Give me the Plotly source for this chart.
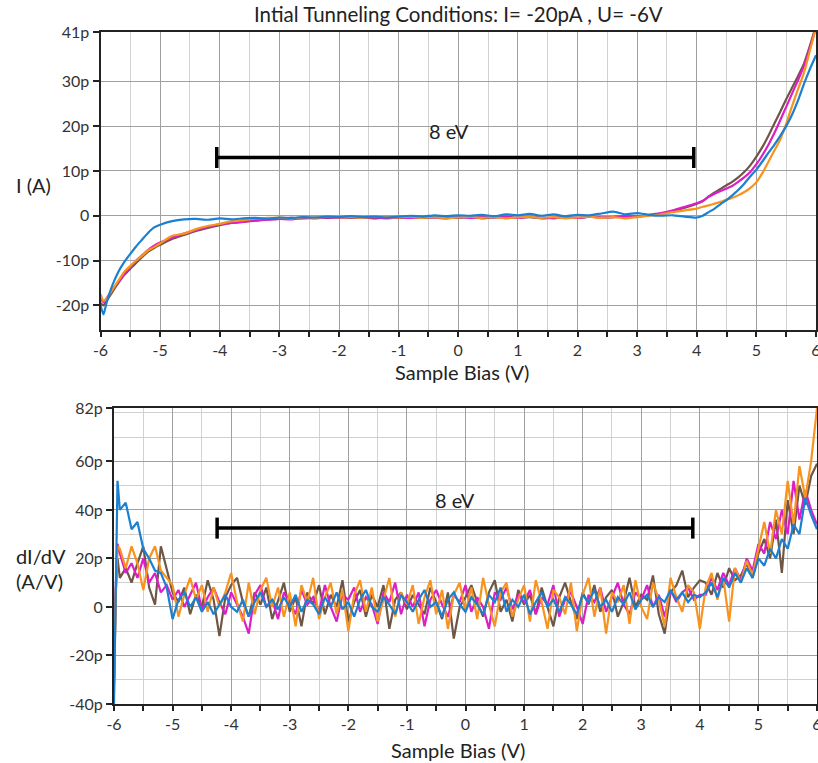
import plotly.graph_objects as go

# ---------------- data ----------------
bias_top = [-6.0, -5.95, -5.9, -5.8, -5.7, -5.6, -5.5, -5.4, -5.3, -5.2, -5.1, -5.0,
            -4.8, -4.6, -4.4, -4.2, -4.0, -3.8, -3.6, -3.4, -3.2, -3.0, -2.8, -2.6, -2.4, -2.2, -2.0, -1.8, -1.6, -1.4, -1.2, -1.0,
            -0.8, -0.6, -0.4, -0.2, 0.0, 0.2, 0.4, 0.6, 0.8, 1.0, 1.2, 1.4, 1.6, 1.8, 2.0, 2.2, 2.4, 2.6, 2.8, 3.0, 3.2, 3.4, 3.6, 3.8,
            4.0, 4.1, 4.2, 4.3, 4.4, 4.5, 4.6, 4.7, 4.8, 4.9, 5.0, 5.1, 5.2, 5.3, 5.4, 5.5, 5.6, 5.7, 5.8, 5.9, 6.0]

I_brown = [-19.5, -20.0, -19.0, -17.0, -15.0, -13.2, -11.8, -10.5, -9.2, -8.0, -7.2, -6.5,
           -5.2, -4.3, -3.4, -2.7, -2.1, -1.6, -1.3, -1.1, -0.8, -0.7, -0.5, -0.6, -0.4, -0.5, -0.3, -0.5, -0.4, -0.6, -0.4, -0.5,
           -0.3, -0.5, -0.4, -0.2, -0.5, -0.3, -0.6, -0.4, -0.2, -0.5, -0.3, -0.6, -0.4, -0.3, -0.5, -0.2, -0.4, -0.3, -0.2, -0.2, 0.1, 0.5, 1.0, 1.8,
           2.7, 3.3, 4.3, 5.2, 6.0, 6.8, 7.6, 8.6, 9.8, 11.3, 13.2, 15.3, 17.8, 20.5, 23.2, 26.0, 28.6, 31.2, 34.0, 38.0, 42.5]
I_magenta = [-18.5, -19.3, -18.5, -16.5, -14.8, -13.0, -11.5, -10.0, -8.8, -7.6, -6.7, -6.0,
             -4.9, -4.0, -3.2, -2.5, -1.9, -1.6, -1.4, -1.0, -0.9, -0.7, -0.8, -0.5, -0.6, -0.4, -0.5, -0.3, -0.5, -0.4, -0.6, -0.4,
             -0.5, -0.3, -0.4, -0.6, -0.3, -0.5, -0.2, -0.4, -0.3, -0.5, -0.2, -0.4, -0.6, -0.3, -0.5, -0.2, -0.4, -0.3, -0.1, -0.2, 0.2, 0.6, 1.2, 2.0,
             2.8, 3.3, 4.2, 4.9, 5.5, 6.1, 6.7, 7.6, 8.6, 9.8, 11.5, 13.5, 15.8, 18.4, 21.3, 24.3, 27.3, 30.3, 33.5, 37.5, 42.0]
I_orange = [-17.5, -19.0, -18.5, -16.5, -14.5, -12.5, -11.2, -10.0, -8.9, -7.7, -7.0, -6.2,
            -4.5, -4.0, -3.0, -2.3, -1.8, -1.2, -1.0, -0.6, -0.5, -0.4, -0.6, -0.3, -0.5, -0.2, -0.4, -0.3, -0.5, -0.2, -0.3, -0.4,
            -0.2, -0.5, -0.3, -0.6, -0.4, -0.2, -0.5, -0.3, -0.6, -0.4, -0.2, -0.5, -0.3, -0.6, -0.4, -0.2, -0.5, -0.3, -0.6, -0.3, 0.0, 0.3, 0.8, 1.2,
            1.6, 2.0, 2.3, 2.7, 3.1, 3.6, 4.0, 4.6, 5.3, 6.2, 7.5, 9.5, 12.0, 14.5, 17.0, 20.5, 24.5, 28.3, 32.0, 37.0, 42.0]
I_blue = [-20.0, -22.0, -19.5, -15.5, -12.5, -10.3, -8.5, -6.8, -5.3, -3.8, -2.6, -2.0,
          -1.2, -0.8, -0.7, -0.9, -0.6, -0.8, -0.6, -0.5, -0.7, -0.4, -0.5, -0.3, -0.4, -0.2, -0.3, -0.1, -0.3, -0.2, -0.4, -0.2,
          0.0, -0.2, 0.1, -0.1, 0.1, 0.0, 0.2, -0.1, 0.3, 0.1, 0.4, 0.0, 0.3, -0.1, 0.2, 0.1, 0.5, 0.9, 0.3, 0.6, 0.2, 0.0, 0.1, -0.2,
          -0.4, 0.0, 0.8, 1.6, 2.6, 3.5, 4.6, 5.8, 7.2, 8.8, 10.3, 12.1, 14.0, 15.8, 17.8, 20.0, 22.6, 25.8, 29.5, 32.8, 35.8]

bias_bot = [-6.0, -5.97, -5.94,
            -5.9, -5.8, -5.7, -5.6, -5.5, -5.4, -5.3, -5.2, -5.1, -5.0,
            -4.9, -4.8, -4.7, -4.6, -4.5, -4.4, -4.3, -4.2, -4.1, -4.0,
            -3.9, -3.8, -3.7, -3.6, -3.5, -3.4, -3.3, -3.2, -3.1, -3.0,
            -2.9, -2.8, -2.7, -2.6, -2.5, -2.4, -2.3, -2.2, -2.1, -2.0,
            -1.9, -1.8, -1.7, -1.6, -1.5, -1.4, -1.3, -1.2, -1.1, -1.0,
            -0.9, -0.8, -0.7, -0.6, -0.5, -0.4, -0.3, -0.2, -0.1, 0.0,
            0.1, 0.2, 0.3, 0.4, 0.5, 0.6, 0.7, 0.8, 0.9, 1.0,
            1.1, 1.2, 1.3, 1.4, 1.5, 1.6, 1.7, 1.8, 1.9, 2.0,
            2.1, 2.2, 2.3, 2.4, 2.5, 2.6, 2.7, 2.8, 2.9, 3.0,
            3.1, 3.2, 3.3, 3.4, 3.5, 3.6, 3.7, 3.8, 3.9, 4.0,
            4.1, 4.2, 4.3, 4.4, 4.5, 4.6, 4.7, 4.8, 4.9, 5.0,
            5.1, 5.2, 5.3, 5.4, 5.5, 5.6, 5.7, 5.8, 5.9, 6.0]

dIdV_brown = [-32, 6, 20,
              12, 16, 10, 18, 25, 8, 1, 25, 16, 6,
              2, 8, -3, 5, 0, 11, 3, -12, 4, 9,
              12, 2, -4, 6, 1, 8, -5, 3, 10, -2,
              4, -8, 6, 1, 9, -3, 5, 0, 11, -6,
              2, 7, -4, 5, 0, 9, -9, 3, 6, -1,
              5, 1, -3, 8, 2, -5, 6, -13, 0, 4,
              9, 2, -4, 6, 11, -2, 3, -6, 7, 1,
              5, -3, 8, 0, -8, 4, 10, 2, -5, 6,
              1, 9, -2, 4, 7, -4, 2, 12, 0, 5,
              3, 13, -3, -11, 6, 9, 15, 4, 8, 11,
              10, 5, 14, 8, 16, 11, 13, 18, 12, 22,
              28, 20, 36, 14, 44, 30, 50, 42, 54, 59]
dIdV_magenta = [-30, 8, 26,
                22, 14, 18, 12, 20, 10, 14, 6, 9, 3,
                7, 0, 5, 10, -1, 4, 8, 2, -3, 6,
                1, -4, -11, 5, 9, 0, 3, -5, 6, 2,
                -3, 7, 1, 4, -2, 9, 0, -6, 5, 3,
                8, -2, 4, 1, -7, 6, 2, 10, -3, 5,
                0, 6, -8, 3, 7, 1, -4, 5, 2, 9,
                -2, 4, 0, -9, 6, 3, 8, -1, 5, 2,
                7, -3, 4, 1, 9, -4, 3, 6, 0, -7,
                5, 2, 8, -2, 4, 10, 1, -3, 6, 3,
                9, 0, 5, -4, 7, 2, 6, 8, 3, 5,
                5, 12, 7, 14, 9, 16, 11, 20, 15, 26,
                22, 35, 28, 40, 30, 52, 36, 48, 40, 34]
dIdV_orange = [-35, 5, 25,
               24, 16, 25, 18, 7, 20, 25, 15, 12, 9,
               -4, 5, 12, 3, 9, -2, 8, 0, 6, 14,
               2, -6, 10, -3, 7, 12, 0, 8, -4, 6,
               -8, 9, 2, 12, -5, 4, 10, -3, 7, -10,
               5, 11, -2, 8, -6, 3, 12, -4, 6, 1,
               9, -7, 4, 11, -3, 7, -9, 5, 10, -2,
               8, -5, 12, 1, -8, 6, 10, -4, 3, 9,
               -6, 11, 2, -9, 7, 4, -3, 10, -10, 5,
               12, -4, 8, -11, 6, 2, 9, -7, 11, 0,
               -5, 10, 3, -8, 12, 4, -2, 9, 6, -9,
               8, 14, 3, 12, -6, 16, 10, 19, 13, 24,
               35, 22, 40, 30, 52, 34, 58, 45, 60, 82]
dIdV_blue = [-40, 10, 52,
             40, 43, 32, 35, 24, 20, 15, 14, 8, -5,
             3, 6, 0, 4, -2, 2, -3, 1, 5, 0,
             -2, 3, -4, 2, 6, 0, 3, -1, 4, 0,
             5, -2, 3, 1, -3, 4, 0, 6, -1, 2,
             -4, 3, 7, 0, -2, 4, 1, -3, 5, 2,
             -2, 3, 7, 0, 2, -4, 3, 6, 1, -2,
             4, 1, -3, 5, 2, 8, -2, 3, 0, 5,
             -3, 2, 6, 0, 3, -2, 4, 1, -3, 5,
             2, 7, 0, 3, -2, 4, 1, 6, -1, 3,
             5, 0, 4, 2, 7, 3, 6, 2, 5, 4,
             6, 10, 4, 12, 8, 14, 10, 16, 12, 20,
             17, 24, 20, 28, 24, 34, 30, 45, 38, 32]

x_tickvals = [-6, -5, -4, -3, -2, -1, 0, 1, 2, 3, 4, 5, 6]
x_ticktext = ['-6', '-5', '-4', '-3', '-2', '-1', '0', '1', '2', '3', '4', '5', '6']
y1_tickvals = [-20, -10, 0, 10, 20, 30, 41]
y1_ticktext = ['-20p', '-10p', '0', '10p', '20p', '30p', '41p']
y2_tickvals = [-40, -20, 0, 20, 40, 60, 82]
y2_ticktext = ['-40p', '-20p', '0', '20p', '40p', '60p', '82p']

span_top = [-4.05, 3.95]
span_top_y = 13.0
span_bot = [-4.24, 3.88]
span_bot_y = 32.5

colors = {'brown': '#6e5646', 'magenta': '#dc1ec8', 'orange': '#f7931e', 'blue': '#1c80d0'}

# ---------------- figure ----------------
W, H = 818, 763
FONT = 'Lato, Open Sans, sans-serif'


def px(x, y):
    return x / W, 1 - y / H


fig = go.Figure()

for name, ys in [('brown', I_brown), ('magenta', I_magenta), ('orange', I_orange), ('blue', I_blue)]:
    fig.add_trace(go.Scatter(x=bias_top, y=ys, mode='lines', xaxis='x', yaxis='y',
                             line=dict(color=colors[name], width=2.2, shape='spline', smoothing=0.6),
                             showlegend=False, hoverinfo='skip'))

for name, ys in [('brown', dIdV_brown), ('magenta', dIdV_magenta), ('orange', dIdV_orange), ('blue', dIdV_blue)]:
    fig.add_trace(go.Scatter(x=bias_bot, y=ys, mode='lines', xaxis='x2', yaxis='y2',
                             line=dict(color=colors[name], width=2.2),
                             showlegend=False, hoverinfo='skip'))

# 8 eV span bars
for xs, yv, xa, ya in [(span_top, span_top_y, 'x', 'y'), (span_bot, span_bot_y, 'x2', 'y2')]:
    fig.add_trace(go.Scatter(x=xs, y=[yv, yv], mode='lines+markers', xaxis=xa, yaxis=ya,
                             line=dict(color='black', width=3.5),
                             marker=dict(symbol='line-ns', size=15, line=dict(color='black', width=3.5)),
                             showlegend=False, hoverinfo='skip'))

xtickfont = dict(family=FONT, size=16, color='#333')
ytickfont = dict(family=FONT, size=16, color='#333')
common_x = dict(range=[-6, 6], tickmode='array', tickvals=x_tickvals, ticktext=x_ticktext,
                ticks='outside', ticklen=5, tickwidth=1.5, tickcolor='#222',
                showgrid=True, gridcolor='#a0a0a0', gridwidth=1,
                minor=dict(dtick=0.5, tick0=0, ticks='outside', ticklen=5, tickwidth=1.5, tickcolor='#222',
                           showgrid=True, gridcolor='#d2d2d2', gridwidth=1),
                showline=True, linecolor='#222', linewidth=2, mirror=True,
                zeroline=False, tickfont=xtickfont, ticklabeloverflow='allow', fixedrange=True)
common_y = dict(tickmode='array', ticks='outside', ticklen=6, tickwidth=1.5, tickcolor='#222',
                showgrid=True, gridcolor='#a0a0a0', gridwidth=1,
                showline=True, linecolor='#222', linewidth=2, mirror=True,
                zeroline=False, tickfont=ytickfont, ticklabeloverflow='allow', fixedrange=True)

x1d = [100.5 / W, 816 / W]
y1d = [1 - 330 / H, 1 - 32 / H]
x2d = [114 / W, 817 / W]
y2d = [1 - 704 / H, 1 - 408 / H]

fig.update_layout(
    width=W, height=H, margin=dict(l=0, r=0, t=0, b=0, autoexpand=False),
    paper_bgcolor='white', plot_bgcolor='white',
    font=dict(family=FONT, color='#222'),
    xaxis=dict(domain=x1d, anchor='y', **common_x),
    yaxis=dict(domain=y1d, anchor='x', range=[-25.5, 41], tickvals=y1_tickvals, ticktext=y1_ticktext,
               **common_y),
    xaxis2=dict(domain=x2d, anchor='y2', **common_x),
    yaxis2=dict(domain=y2d, anchor='x2', range=[-40, 82], tickvals=y2_tickvals, ticktext=y2_ticktext,
                minor=dict(dtick=10, tick0=0, showgrid=True, gridcolor='#d0d0d0', gridwidth=1),
                **common_y),
)

ann = []


def text(x, y, s, size=20, xanchor='center'):
    xp, yp = px(x, y)
    ann.append(dict(x=xp, y=yp, xref='paper', yref='paper', text=s, showarrow=False,
                    xanchor=xanchor, yanchor='middle', font=dict(family=FONT, size=size, color='#222')))


text(458, 14, 'Intial Tunneling Conditions: I= -20pA , U= -6V', 20.5)
text(14, 185, 'I (A)', 20, 'left')
text(462, 372, 'Sample Bias (V)', 20)
text(14, 556, 'dI/dV', 20, 'left')
text(14, 581, '(A/V)', 20, 'left')
text(458, 750, 'Sample Bias (V)', 20)
fig.update_layout(annotations=ann)

# "8 eV" labels in data coordinates
fig.add_annotation(x=-0.15, y=19.0, xref='x', yref='y', text='8 eV', showarrow=False,
                   font=dict(family=FONT, size=20, color='#222'))
fig.add_annotation(x=-0.18, y=44.0, xref='x2', yref='y2', text='8 eV', showarrow=False,
                   font=dict(family=FONT, size=20, color='#222'))

fig.write_html('out.html')
